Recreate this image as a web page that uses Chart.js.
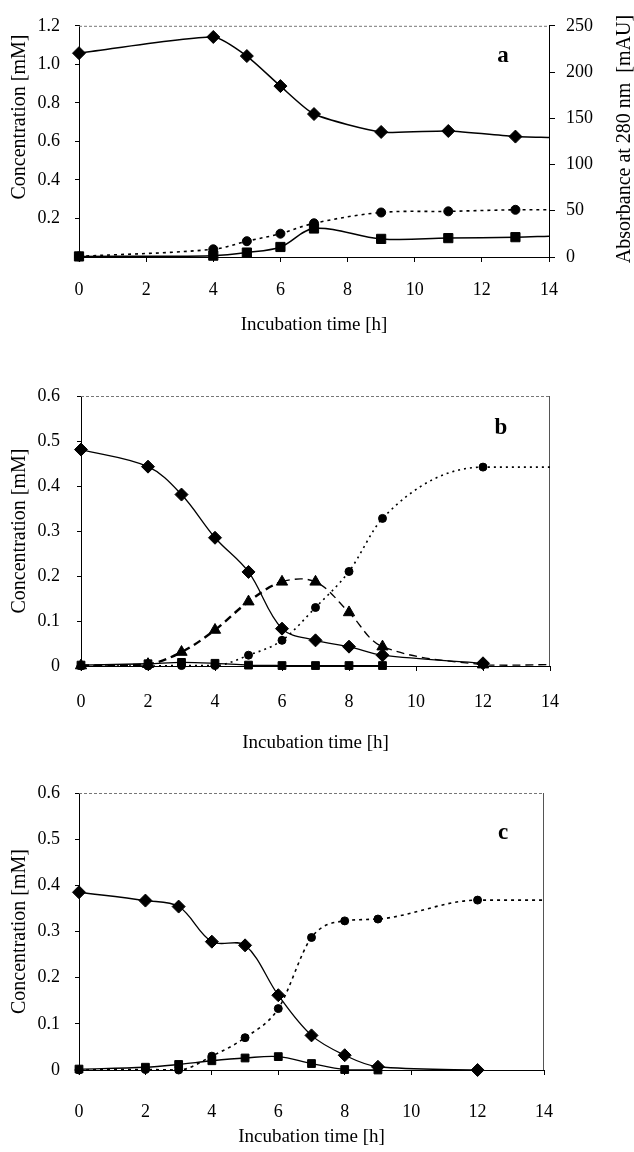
<!DOCTYPE html>
<html><head><meta charset="utf-8">
<script src="https://cdn.jsdelivr.net/npm/chart.js@4"></script>
<style>
html,body{margin:0;padding:0;background:#fff;}
#wrap{position:relative;width:634px;height:1152px;overflow:hidden;}
canvas{position:absolute;left:0;}
</style></head><body>
<div id="wrap">
<canvas id="ca" width="634" height="350" style="top:0px"></canvas>
<canvas id="cb" width="634" height="415" style="top:350px"></canvas>
<canvas id="cc" width="634" height="387" style="top:765px"></canvas>
</div>
<script>
// ---------- tick labels ----------
const xTickValues = [0, 2, 4, 6, 8, 10, 12, 14];
const xTickLabels = ['0', '2', '4', '6', '8', '10', '12', '14'];
const yTickValuesA = [0, 0.2, 0.4, 0.6, 0.8, 1.0, 1.2];
const yTickLabelsA = ['', '0.2', '0.4', '0.6', '0.8', '1.0', '1.2'];
const y2TickValuesA = [0, 50, 100, 150, 200, 250];
const y2TickLabelsA = ['0', '50', '100', '150', '200', '250'];
const yTickValuesBC = [0, 0.1, 0.2, 0.3, 0.4, 0.5, 0.6];
const yTickLabelsBC = ['0', '0.1', '0.2', '0.3', '0.4', '0.5', '0.6'];

// ---------- panel a ----------
const timeA = [0, 4, 5, 6, 7, 9, 11, 13, 14];
const diamondsA = [1.058, 1.142, 1.043, 0.887, 0.742, 0.649, 0.654, 0.625, 0.620];
const circlesA  = [0.003, 0.040, 0.082, 0.121, 0.175, 0.231, 0.237, 0.245, 0.245];
const squaresA  = [0.003, 0.007, 0.023, 0.052, 0.148, 0.094, 0.098, 0.103, 0.108];

// ---------- panel b ----------
const timeB = [0, 2, 3, 4, 5, 6, 7, 8, 9, 12, 14];
const diamondsB  = [0.481, 0.443, 0.381, 0.285, 0.209, 0.083, 0.057, 0.043, 0.024, 0.006, null];
const trianglesB = [0.001, 0.004, 0.031, 0.080, 0.143, 0.187, 0.187, 0.119, 0.043, 0.003, 0.003];
const circlesB   = [0.000, 0.000, 0.001, 0.001, 0.024, 0.057, 0.130, 0.210, 0.328, 0.442, 0.442];
const squaresB   = [0.002, 0.005, 0.008, 0.006, 0.002, 0.001, 0.001, 0.001, 0.001, null, null];

// ---------- panel c ----------
const timeC = [0, 2, 3, 4, 5, 6, 7, 8, 9, 12, 14];
const diamondsC = [0.385, 0.367, 0.354, 0.278, 0.270, 0.162, 0.075, 0.032, 0.007, 0.000, null];
const circlesC  = [0.000, 0.001, 0.000, 0.030, 0.070, 0.133, 0.287, 0.323, 0.327, 0.368, 0.368];
const squaresC  = [0.002, 0.006, 0.012, 0.020, 0.026, 0.029, 0.014, 0.001, 0.000, null, null];

const FONT = "'Liberation Serif','Times New Roman',serif";
Chart.defaults.font.family = FONT;
Chart.defaults.color = '#000';

function series(times, vals, st) {
  const ds = {
    data: times.map((t, i) => ({x: t, y: vals[i]})).filter(p => p.y !== null && p.y !== undefined),
    borderColor: '#000',
    backgroundColor: '#000',
    borderWidth: st.w || 1.3,
    borderDash: st.dash || [],
    borderCapStyle: 'butt',
    pointStyle: st.shape,
    pointRadius: ctx => (ctx.raw && ctx.raw.x === 14) ? 0 : st.r,
    pointHoverRadius: ctx => (ctx.raw && ctx.raw.x === 14) ? 0 : st.r,
    pointBorderWidth: 1,
    pointBorderColor: '#000',
    pointBackgroundColor: '#000',
    tension: st.tension !== undefined ? st.tension : 0.35,
    fill: false,
    clip: false,
    yAxisID: 'y'
  };
  if (st.mono) ds.cubicInterpolationMode = 'monotone';
  if (st.segment) ds.segment = st.segment;
  return ds;
}

function fixedTicks(values) {
  return s => { s.ticks = values.map(v => ({value: v})); };
}

function xScale(height, padding, titlePad) {
  return {
    type: 'linear', min: 0, max: 14,
    afterBuildTicks: fixedTicks(xTickValues),
    ticks: {callback: (v, i) => xTickLabels[i], font: {size: 18}, padding: padding, maxRotation: 0, autoSkip: false, color: '#000'},
    grid: {drawOnChartArea: false, drawTicks: true, tickLength: 5, color: '#000'},
    border: {color: '#000', width: 1},
    title: {display: true, text: 'Incubation time [h]', font: {size: 19}, color: '#000', padding: {top: 0, bottom: titlePad}},
    afterFit: s => { s.height = height; }
  };
}

function yScale(max, values, labels, width, pad, showTitle) {
  return {
    type: 'linear', position: 'left', min: 0, max: max,
    afterBuildTicks: fixedTicks(values),
    ticks: {callback: (v, i) => labels[i], font: {size: 18}, padding: pad, color: '#000'},
    grid: {drawOnChartArea: false, drawTicks: true, tickLength: 4, color: '#000'},
    border: {color: '#000', width: 1},
    title: {display: showTitle, text: 'Concentration [mM]', font: {size: 20}, color: '#000', padding: {top: 8, bottom: 0}},
    afterFit: s => { s.width = width; }
  };
}

const framePlugin = {
  id: 'frame',
  beforeDatasetsDraw(chart, args, o) {
    const {left, right, top, bottom} = chart.chartArea;
    const ctx = chart.ctx;
    ctx.save();
    ctx.strokeStyle = '#777';
    ctx.lineWidth = 1;
    ctx.setLineDash([3, 2]);
    ctx.beginPath();
    ctx.moveTo(left, top + 0.5);
    ctx.lineTo(right, top + 0.5);
    ctx.stroke();
    if (o.rightLine) {
      ctx.setLineDash([]);
      ctx.strokeStyle = '#555';
      ctx.beginPath();
      ctx.moveTo(right - 0.5, top);
      ctx.lineTo(right - 0.5, bottom);
      ctx.stroke();
    }
    ctx.restore();
  },
  afterDraw(chart, args, o) {
    const ctx = chart.ctx;
    ctx.save();
    ctx.fillStyle = '#000';
    ctx.textAlign = 'center';
    ctx.textBaseline = 'middle';
    ctx.font = 'bold 23px ' + FONT;
    ctx.fillText(o.label, o.labelX, o.labelY);
    (o.vtitles || []).forEach(t => {
      ctx.save();
      ctx.font = '20px ' + FONT;
      ctx.translate(t.x, t.y);
      ctx.rotate(-Math.PI / 2);
      ctx.fillText(t.text, 0, 0);
      ctx.restore();
    });
    ctx.restore();
  }
};

const common = {
  responsive: false,
  animation: false,
  events: [],
  plugins: {legend: {display: false}, tooltip: {enabled: false}}
};

// Panel a
new Chart(document.getElementById('ca'), {
  type: 'line',
  data: {datasets: [
    series(timeA, squaresA, {shape: 'rect', r: 6.5, w: 1.5}),
    series(timeA, circlesA, {shape: 'circle', r: 4.5, w: 1.6, dash: [3, 4]}),
    series(timeA, diamondsA, {shape: 'rectRot', r: 6.5, w: 1.5, tension: 0.2})
  ]},
  options: Object.assign({}, common, {
    layout: {padding: {top: 16, left: 0, right: 0, bottom: 0}, autoPadding: false},
    scales: {
      x: xScale(93, 17, 13.6),
      y: yScale(1.2, yTickValuesA, yTickLabelsA, 79, 15, false),
      y2: {
        type: 'linear', position: 'right', min: 0, max: 250,
        afterBuildTicks: fixedTicks(y2TickValuesA),
        ticks: {callback: (v, i) => y2TickLabelsA[i], font: {size: 18}, padding: 11, color: '#000'},
        grid: {drawOnChartArea: false, drawTicks: true, tickLength: 6, color: '#000'},
        border: {color: '#000', width: 1},
        afterFit: s => { s.width = 85; }
      }
    },
    plugins: Object.assign({}, common.plugins, {
      frame: {rightLine: false, label: 'a', labelX: 503, labelY: 56,
        vtitles: [{text: 'Concentration [mM]', x: 20, y: 117}, {text: 'Absorbance at 280 nm  [mAU]', x: 625, y: 139}]}
    })
  }),
  plugins: [framePlugin]
});

// Panel b
new Chart(document.getElementById('cb'), {
  type: 'line',
  data: {datasets: [
    series(timeB, squaresB, {shape: 'rect', r: 5.5, w: 1.3}),
    series(timeB, circlesB, {shape: 'circle', r: 4, w: 1.6, dash: [2, 4], mono: true}),
    series(timeB, trianglesB, {shape: 'triangle', r: 6.5, w: 1.3, dash: [8, 5],
      segment: {borderWidth: ctx => ctx.p1.parsed.x <= 6 ? 2.4 : 1.3}}),
    series(timeB, diamondsB, {shape: 'rectRot', r: 6.5, w: 1.3})
  ]},
  options: Object.assign({}, common, {
    layout: {padding: {top: 46, left: 0, right: 84, bottom: 0}, autoPadding: false},
    scales: {
      x: xScale(99, 20, 10.6),
      y: yScale(0.6, yTickValuesBC, yTickLabelsBC, 81, 17, true)
    },
    plugins: Object.assign({}, common.plugins, {
      frame: {rightLine: true, label: 'b', labelX: 501, labelY: 78}
    })
  }),
  plugins: [framePlugin]
});

// Panel c
new Chart(document.getElementById('cc'), {
  type: 'line',
  data: {datasets: [
    series(timeC, squaresC, {shape: 'rect', r: 5.5, w: 1.3}),
    series(timeC, circlesC, {shape: 'circle', r: 4, w: 1.6, dash: [3, 4], mono: true}),
    series(timeC, diamondsC, {shape: 'rectRot', r: 6.5, w: 1.3})
  ]},
  options: Object.assign({}, common, {
    layout: {padding: {top: 28, left: 0, right: 90, bottom: 0}, autoPadding: false},
    scales: {
      x: xScale(82, 26, 3.6),
      y: yScale(0.6, yTickValuesBC, yTickLabelsBC, 79, 15, true)
    },
    plugins: Object.assign({}, common.plugins, {
      frame: {rightLine: true, label: 'c', labelX: 503, labelY: 68}
    })
  }),
  plugins: [framePlugin]
});
</script>
</body></html>
